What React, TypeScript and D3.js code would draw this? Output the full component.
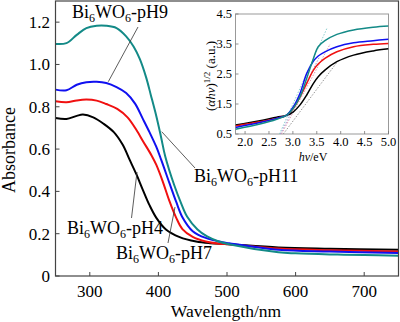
import React from "react";
import * as d3 from "d3";

// ---------- main chart data ----------
const wavelengthTicks = [300, 400, 500, 600, 700];
const absTicks = [0, 0.2, 0.4, 0.6, 0.8, 1.0, 1.2];
const absTickLabels = ["0", "0.2", "0.4", "0.6", "0.8", "1.0", "1.2"];

const pH11W = [250, 266, 281, 295, 310, 324, 339, 353, 364, 373, 382, 389, 397, 404, 410, 423, 433, 442, 457, 471, 488, 503, 575, 600, 650, 700, 750];
const pH11A = [1.097, 1.101, 1.14, 1.172, 1.183, 1.183, 1.172, 1.133, 1.084, 1.025, 0.94, 0.855, 0.755, 0.655, 0.565, 0.43, 0.345, 0.28, 0.22, 0.187, 0.163, 0.15, 0.112, 0.107, 0.102, 0.099, 0.096];

const pH9W = [250, 266, 281, 295, 310, 324, 339, 353, 366, 377, 387, 397, 404, 416, 426, 435, 450, 469, 493, 503, 575, 650, 750];
const pH9A = [0.881, 0.878, 0.904, 0.916, 0.918, 0.912, 0.893, 0.865, 0.815, 0.745, 0.68, 0.61, 0.55, 0.44, 0.35, 0.278, 0.212, 0.18, 0.16, 0.155, 0.124, 0.116, 0.109];

const pH7W = [250, 266, 281, 295, 310, 324, 340, 355, 368, 378, 390, 397, 406, 416, 426, 435, 450, 469, 488, 503, 575, 650, 750];
const pH7A = [0.826, 0.821, 0.83, 0.834, 0.829, 0.813, 0.79, 0.75, 0.69, 0.635, 0.57, 0.525, 0.45, 0.355, 0.275, 0.222, 0.185, 0.163, 0.153, 0.15, 0.13, 0.122, 0.116];

const pH4W = [250, 266, 281, 290, 305, 320, 335, 348, 358, 368, 377, 387, 397, 411, 431, 455, 475, 503, 575, 650, 750];
const pH4A = [0.747, 0.742, 0.757, 0.763, 0.75, 0.72, 0.68, 0.62, 0.55, 0.48, 0.41, 0.335, 0.275, 0.22, 0.184, 0.163, 0.155, 0.15, 0.135, 0.129, 0.124];

// ---------- inset data ----------
const energyTicks = [2.0, 2.5, 3.0, 3.5, 4.0, 4.5, 5.0];
const energyTickLabels = ["2.0", "2.5", "3.0", "3.5", "4.0", "4.5", "5.0"];
const taucTicks = [0.5, 1.5, 2.5, 3.5, 4.5];
const taucTickLabels = ["0.5", "1.5", "2.5", "3.5", "4.5"];

const insetE = [1.8, 2.31, 2.66, 2.87, 3.01, 3.15, 3.29, 3.43, 3.53, 3.67, 3.92, 4.27, 4.68, 5.0];
const insetPH11 = [0.66, 0.83, 0.99, 1.13, 1.36, 1.74, 2.36, 3.02, 3.41, 3.61, 3.82, 3.97, 4.06, 4.1];
const insetPH9 = [0.72, 0.88, 1.02, 1.13, 1.41, 1.86, 2.52, 2.93, 3.1, 3.24, 3.41, 3.54, 3.61, 3.66];
const insetPH7 = [0.77, 0.91, 1.02, 1.13, 1.36, 1.74, 2.19, 2.63, 2.83, 3.02, 3.24, 3.41, 3.49, 3.52];
const insetPH4 = [0.8, 0.94, 1.06, 1.12, 1.24, 1.47, 1.8, 2.19, 2.41, 2.63, 2.91, 3.13, 3.27, 3.34];

// tangent (band-gap extrapolation) lines: [e0, y0, e1, y1]
const tangentPH11 = [2.72, 0.5, 3.72, 4.05];
const tangentPH9 = [2.74, 0.5, 3.55, 3.05];
const tangentPH7 = [2.76, 0.5, 3.78, 3.5];
const tangentPH4 = [2.8, 0.5, 3.95, 2.95];

const TEAL = "#138a87";
const BLUE = "#1010f0";
const RED = "#f01010";
const BLACK = "#000000";
const FONT = "'Liberation Serif', 'Times New Roman', serif";

export default function App() {
  const W = 400, H = 322;
  const x = d3.scaleLinear().domain([250, 750]).range([55.5, 398.5]);
  const y = d3.scaleLinear().domain([0, 1.3]).range([276, 1]);

  const ix = d3.scaleLinear().domain([1.8, 5.0]).range([235.5, 388.5]);
  const iy = d3.scaleLinear().domain([0.5, 4.5]).range([134, 14]);

  const mainLine = (ws: number[], as: number[]) =>
    d3.line<number>().x((_, i) => x(ws[i])).y((_, i) => y(as[i])).curve(d3.curveCatmullRom.alpha(0.5))(ws) || "";
  const insetLine = (ys: number[]) =>
    d3.line<number>().x((_, i) => ix(insetE[i])).y((_, i) => iy(ys[i])).curve(d3.curveCatmullRom.alpha(0.5))(insetE) || "";

  const mainSeries = [
    { w: pH4W, a: pH4A, c: BLACK },
    { w: pH7W, a: pH7A, c: RED },
    { w: pH9W, a: pH9A, c: BLUE },
    { w: pH11W, a: pH11A, c: TEAL },
  ];
  const insetSeries = [
    { v: insetPH4, c: BLACK },
    { v: insetPH7, c: RED },
    { v: insetPH9, c: BLUE },
    { v: insetPH11, c: TEAL },
  ];
  const tangents = [
    { t: tangentPH4, c: "#8a8a8a" },
    { t: tangentPH7, c: "#e08aa0" },
    { t: tangentPH9, c: "#9a8ad0" },
    { t: tangentPH11, c: "#7fc8c8" },
  ];

  const label = (suffix: string, lx: number, ly: number) => (
    <text x={lx} y={ly} fontFamily={FONT} fontSize={18} fill="#000">
      <tspan>Bi</tspan>
      <tspan fontSize={12} dy={4}>6</tspan>
      <tspan dy={-4}>WO</tspan>
      <tspan fontSize={12} dy={4}>6</tspan>
      <tspan dy={-4}>{suffix}</tspan>
    </text>
  );

  return (
    <svg width={W} height={H} style={{ position: "absolute", left: 0, top: 0, background: "#fff" }}>
      <defs>
        <clipPath id="mainClip">
          <rect x={55.5} y={1} width={343} height={275} />
        </clipPath>
        <clipPath id="insetClip">
          <rect x={235.5} y={14} width={153} height={120} />
        </clipPath>
      </defs>
      <rect x={0} y={0} width={W} height={H} fill="#fff" />

      {/* main curves */}
      <g clipPath="url(#mainClip)">
        {mainSeries.map((s, i) => (
          <path key={i} d={mainLine(s.w, s.a)} fill="none" stroke={s.c} strokeWidth={2} />
        ))}
      </g>

      {/* main frame */}
      <rect x={55.5} y={1} width={343} height={275} fill="none" stroke="#444" strokeWidth={1.2} />
      {wavelengthTicks.map((t) => (
        <g key={t}>
          <line x1={x(t)} x2={x(t)} y1={276} y2={272} stroke="#444" strokeWidth={1} />
          <text x={x(t)} y={297} textAnchor="middle" fontFamily={FONT} fontSize={17}>{t}</text>
        </g>
      ))}
      {absTicks.map((t, i) => (
        <g key={t}>
          <line x1={55.5} x2={59.5} y1={y(t)} y2={y(t)} stroke="#444" strokeWidth={1} />
          <text x={50} y={y(t)} dy="0.35em" textAnchor="end" fontFamily={FONT} fontSize={17}>{absTickLabels[i]}</text>
        </g>
      ))}
      <text x={226} y={317} textAnchor="middle" fontFamily={FONT} fontSize={17.5}>Wavelength/nm</text>
      <text transform="translate(15,150) rotate(-90)" textAnchor="middle" fontFamily={FONT} fontSize={18}>Absorbance</text>

      {/* leader lines */}
      <line x1={138} x2={108.3} y1={27} y2={81.7} stroke="#333" strokeWidth={0.8} />
      <line x1={161.7} x2={195} y1={131.7} y2={168} stroke="#333" strokeWidth={0.8} />
      <line x1={137} x2={131.5} y1={172} y2={218} stroke="#333" strokeWidth={0.8} />
      <line x1={175} x2={168} y1={207} y2={243} stroke="#333" strokeWidth={0.8} />

      {label("-pH9", 72, 18)}
      {label("-pH11", 194, 182)}
      {label("-pH4", 67, 234)}
      {label("-pH7", 116, 259)}

      {/* inset */}
      <rect x={235.5} y={14} width={153} height={120} fill="#fff" stroke="#999" strokeWidth={1} />
      <g clipPath="url(#insetClip)">
        {tangents.map((s, i) => (
          <line key={i} x1={ix(s.t[0])} y1={iy(s.t[1])} x2={ix(s.t[2])} y2={iy(s.t[3])}
            stroke={s.c} strokeWidth={0.9} strokeDasharray="1.5,1.5" />
        ))}
        {insetSeries.map((s, i) => (
          <path key={i} d={insetLine(s.v)} fill="none" stroke={s.c} strokeWidth={1.5} />
        ))}
      </g>
      {energyTicks.map((t, i) => (
        <g key={t}>
          <line x1={ix(t)} x2={ix(t)} y1={134} y2={131} stroke="#777" strokeWidth={0.8} />
          <text x={ix(t)} y={146} textAnchor="middle" fontFamily={FONT} fontSize={12.5}>{energyTickLabels[i]}</text>
        </g>
      ))}
      {taucTicks.map((t, i) => (
        <g key={t}>
          <line x1={235.5} x2={238.5} y1={iy(t)} y2={iy(t)} stroke="#777" strokeWidth={0.8} />
          <text x={232} y={iy(t)} dy="0.35em" textAnchor="end" fontFamily={FONT} fontSize={12.5}>{taucTickLabels[i]}</text>
        </g>
      ))}
      <text x={313} y={161} textAnchor="middle" fontFamily={FONT} fontSize={12}>
        <tspan fontStyle="italic">hν</tspan>
        <tspan>/eV</tspan>
      </text>
      <text transform="translate(215,76) rotate(-90)" textAnchor="middle" fontFamily={FONT} fontSize={13}>
        <tspan>(</tspan>
        <tspan fontStyle="italic">αhν</tspan>
        <tspan>)</tspan>
        <tspan fontSize={9} dy={-5}>1/2</tspan>
        <tspan dy={5}> (a.u.)</tspan>
      </text>
    </svg>
  );
}
